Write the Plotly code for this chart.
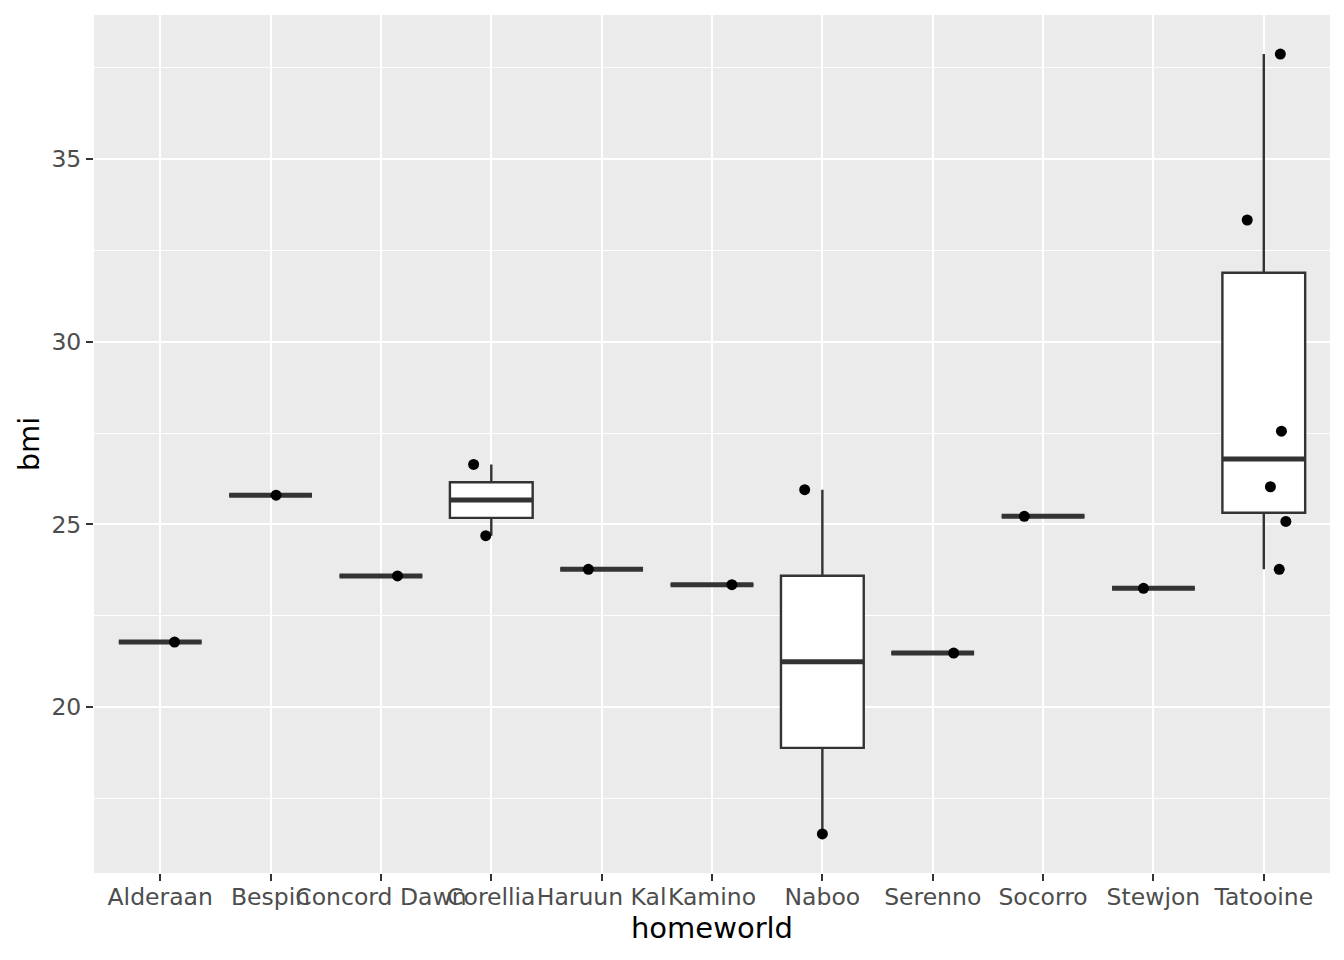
import numpy as np
import plotly.graph_objects as go

# homeworlds on the x axis, in plotted order
homeworlds = ['Alderaan', 'Bespin', 'Concord Dawn', 'Corellia', 'Haruun Kal', 'Kamino',
              'Naboo', 'Serenno', 'Socorro', 'Stewjon', 'Tatooine']

# one entry per character: homeworld, bmi and the horizontal jitter
point_world = ['Alderaan', 'Bespin', 'Concord Dawn', 'Corellia', 'Corellia', 'Haruun Kal',
               'Kamino', 'Naboo', 'Naboo', 'Serenno', 'Socorro', 'Stewjon',
               'Tatooine', 'Tatooine', 'Tatooine', 'Tatooine', 'Tatooine', 'Tatooine']
point_bmi = [21.78, 25.80, 23.59, 26.64, 24.69, 23.77,
             23.35, 25.95, 16.53, 21.48, 25.22, 23.25,
             37.87, 33.33, 27.55, 26.03, 25.08, 23.77]
point_jitter = [0.13, 0.05, 0.15, -0.16, -0.05, -0.12,
                0.18, -0.16, 0.00, 0.19, -0.17, -0.09,
                0.15, -0.15, 0.16, 0.06, 0.20, 0.14]

y_ticks = [20, 25, 30, 35]
y_minor = [17.5, 22.5, 27.5, 32.5, 37.5]

idx = {w: i for i, w in enumerate(homeworlds)}
px = [idx[w] for w in point_world]

# ggplot-style box stats (R quantile type 7, whiskers to 1.5 IQR)
q1s, meds, q3s, lows, highs = [], [], [], [], []
for w in homeworlds:
    vals = np.array([b for b, pw in zip(point_bmi, point_world) if pw == w])
    q1, med, q3 = np.percentile(vals, [25, 50, 75])
    iqr = q3 - q1
    q1s.append(q1)
    meds.append(med)
    q3s.append(q3)
    lows.append(vals[vals >= q1 - 1.5 * iqr].min())
    highs.append(vals[vals <= q3 + 1.5 * iqr].max())

fig = go.Figure()

fig.add_trace(go.Box(
    x=list(range(len(homeworlds))),
    q1=q1s, median=meds, q3=q3s, lowerfence=lows, upperfence=highs,
    width=0.75,
    boxpoints=False,
    whiskerwidth=0,
    fillcolor='white',
    line=dict(color='#333333', width=2.4),
    showlegend=False,
    hoverinfo='skip',
))

# thicker median bar, like ggplot's fatten
med_x, med_y = [], []
for i, m in enumerate(meds):
    med_x += [i - 0.375, i + 0.375, None]
    med_y += [m, m, None]
fig.add_trace(go.Scatter(
    x=med_x, y=med_y, mode='lines',
    line=dict(color='#333333', width=5),
    showlegend=False, hoverinfo='skip',
))

fig.add_trace(go.Scatter(
    x=[p + j for p, j in zip(px, point_jitter)], y=point_bmi,
    mode='markers',
    marker=dict(color='black', size=11),
    showlegend=False,
))

fig.update_layout(
    width=1344, height=960,
    margin=dict(l=86, r=22, t=7, b=95),
    paper_bgcolor='white',
    plot_bgcolor='#EBEBEB',
    font=dict(family='DejaVu Sans', color='black'),
    xaxis=dict(
        range=[-0.6, 10.6],
        tickvals=list(range(len(homeworlds))),
        ticktext=homeworlds,
        tickangle=0,
        automargin=False,
        showgrid=True, gridcolor='white', gridwidth=2,
        zeroline=False, showline=False,
        ticks='outside', ticklen=7, tickwidth=2, tickcolor='#333333',
        ticklabelstandoff=-4,
        tickfont=dict(size=23.5, color='#4D4D4D'),
        title=dict(text='homeworld', font=dict(size=29, color='black'), standoff=3),
    ),
    yaxis=dict(
        range=[15.46, 38.94],
        tickvals=y_ticks,
        automargin=False,
        showgrid=True, gridcolor='white', gridwidth=2,
        minor=dict(tickvals=y_minor, showgrid=True, gridcolor='white', gridwidth=1, ticks=''),
        zeroline=False, showline=False,
        ticks='outside', ticklen=7, tickwidth=2, tickcolor='#333333',
        tickfont=dict(size=23.5, color='#4D4D4D'),
        title=dict(text='bmi', font=dict(size=29, color='black'), standoff=3),
    ),
)

fig.write_html("out.html")
